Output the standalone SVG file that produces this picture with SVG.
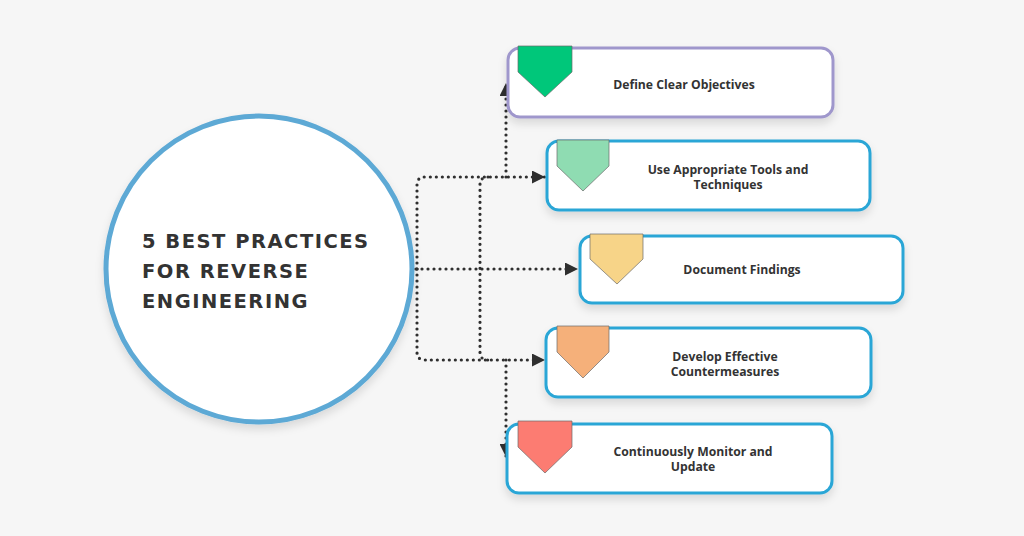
<svg xmlns="http://www.w3.org/2000/svg" width="1024" height="536" viewBox="0 0 1024 536">
<style>
.box{fill:#fff;stroke-width:3;filter:url(#sh)}
.blue{stroke:#2ba6d6}
.purple{stroke:#9f97cc}
.tag{stroke:#6a6a6a;stroke-width:0.7}
.lbl{font-family:"Open Sans","Liberation Sans",sans-serif;font-weight:700;font-size:12.2px;fill:#333;text-anchor:middle}
.title{font-family:"DejaVu Sans","Liberation Sans",sans-serif;font-weight:700;font-size:19.5px;fill:#333;letter-spacing:1.5px}
.dot{fill:none;stroke:#2f2f2f;stroke-width:3.2;stroke-dasharray:0 6;stroke-linecap:round}
</style>
<defs>
<filter id="sh" x="-10%" y="-20%" width="120%" height="160%">
<feDropShadow dx="0" dy="5" stdDeviation="4" flood-color="#000" flood-opacity="0.12"/>
</filter>
<marker id="ar" markerUnits="userSpaceOnUse" markerWidth="13" markerHeight="13" viewBox="0 0 10 10" refX="10" refY="5" orient="auto">
<path d="M0 0 L10 5 L0 10 Z" fill="#2f2f2f"/>
</marker>
</defs>
<rect width="1024" height="536" fill="#f6f6f6"/>
<g id="center">
<circle cx="259" cy="269" r="153" fill="#fff" stroke="#5da9d5" stroke-width="5" filter="url(#sh)"/>
<text class="title" x="142" y="248">5 BEST PRACTICES</text>
<text class="title" x="142" y="278">FOR REVERSE</text>
<text class="title" x="142" y="308">ENGINEERING</text>
</g>
<g id="connectors">
<path class="dot" d="M416 269 H578" marker-end="url(#ar)"/>
<path class="dot" d="M417 269 V185 Q417 177 425 177 H545" marker-end="url(#ar)"/>
<path class="dot" d="M417 269 V352 Q417 360 425 360 H545" marker-end="url(#ar)"/>
<path class="dot" d="M488 177 Q480 177 480 185 V352 Q480 360 488 360"/>
<path class="dot" d="M506 177 V83" marker-end="url(#ar)"/>
<path class="dot" d="M506 360 V457" marker-end="url(#ar)"/>
</g>
<g id="n1">
<rect class="box purple" x="508" y="48" width="325" height="69" rx="12"/>
<polygon class="tag" fill="#00c77a" points="518,46 572,46 572,72 545,97 518,72"/>
<text class="lbl" x="684" y="89">Define Clear Objectives</text>
</g>
<g id="n2">
<rect class="box blue" x="547" y="141" width="323" height="69" rx="12"/>
<polygon class="tag" fill="#8fdcb2" points="557,140 609,140 609,166 583,191 557,166"/>
<text class="lbl" x="728" y="174">Use Appropriate Tools and</text>
<text class="lbl" x="728" y="189">Techniques</text>
</g>
<g id="n3">
<rect class="box blue" x="580" y="236" width="323" height="67" rx="12"/>
<polygon class="tag" fill="#f7d488" points="590,234 643,234 643,259 617,284 590,259"/>
<text class="lbl" x="742" y="274">Document Findings</text>
</g>
<g id="n4">
<rect class="box blue" x="546" y="328" width="325" height="69" rx="12"/>
<polygon class="tag" fill="#f5b07a" points="557,326 609,326 609,352 583,378 557,352"/>
<text class="lbl" x="725" y="361">Develop Effective</text>
<text class="lbl" x="725" y="376">Countermeasures</text>
</g>
<g id="n5">
<rect class="box blue" x="507" y="424" width="325" height="69" rx="12"/>
<polygon class="tag" fill="#fc7c72" points="518,421 572,421 572,447 545,473 518,447"/>
<text class="lbl" x="693" y="456">Continuously Monitor and</text>
<text class="lbl" x="693" y="471">Update</text>
</g>
</svg>
